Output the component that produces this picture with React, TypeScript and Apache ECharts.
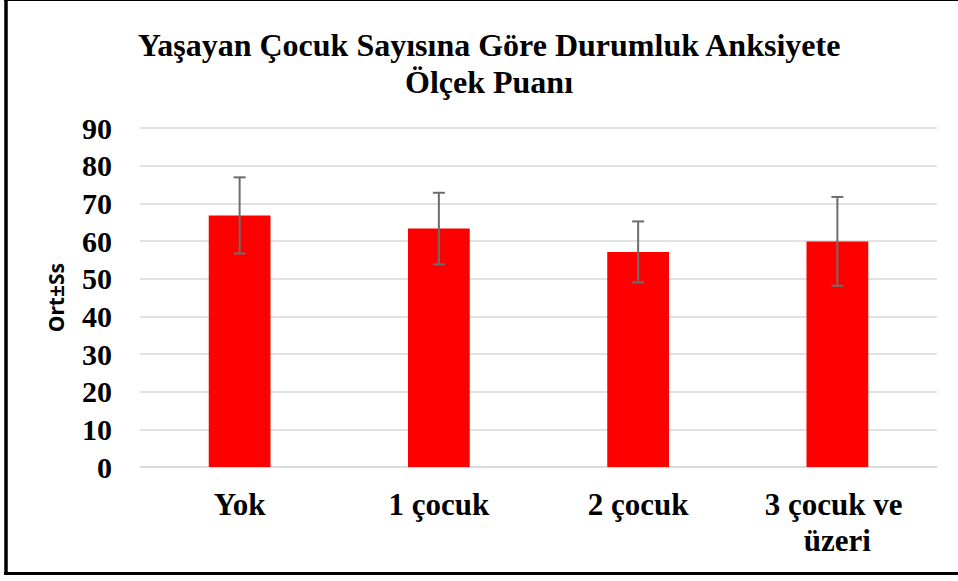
import React, { useEffect, useRef } from "react";
import * as echarts from "echarts";

const titleLines = ["Yaşayan Çocuk Sayısına Göre Durumluk Anksiyete", "Ölçek Puanı"];
const categories = ["Yok", "1 çocuk", "2 çocuk", "3 çocuk ve üzeri"];
const means = [66.8, 63.3, 57.1, 59.9];
const sds = [10.1, 9.5, 8.1, 11.8];
const yAxisName = "Ort±Ss";
const yMin = 0;
const yMax = 90;
const yInterval = 10;

export default function App() {
  const ref = useRef<HTMLDivElement>(null);
  useEffect(() => {
    document.body.style.margin = "0";
    const chart = echarts.init(ref.current!, null, { renderer: "svg" });
    const errData = categories.map((_, i) => [i, means[i] - sds[i], means[i] + sds[i]]);
    chart.setOption({
      animation: false,
      backgroundColor: "#ffffff",
      title: {
        text: titleLines.join("\n"),
        left: 484,
        top: 21,
        textAlign: "center",
        textStyle: {
          fontFamily: "Liberation Serif",
          fontWeight: "bold",
          fontSize: 32,
          lineHeight: 37,
          color: "#000000",
        },
      },
      grid: { left: 140, right: 21, top: 128, bottom: 114 },
      xAxis: {
        type: "category",
        data: categories,
        axisLine: { show: true, lineStyle: { color: "#d9d9d9", width: 1.5 } },
        axisTick: { show: false },
        axisLabel: {
          interval: 0,
          margin: 19,
          fontFamily: "Liberation Serif",
          fontWeight: "bold",
          fontSize: 31,
          lineHeight: 36,
          color: "#000000",
          width: 180,
          overflow: "break",
        },
      },
      yAxis: {
        type: "value",
        min: yMin,
        max: yMax,
        interval: yInterval,
        name: yAxisName,
        nameLocation: "middle",
        nameGap: 74,
        nameTextStyle: {
          fontFamily: "Noto Sans",
          fontWeight: "bold",
          fontSize: 21,
          color: "#000000",
        },
        axisLine: { show: false },
        axisTick: { show: false },
        axisLabel: {
          margin: 28,
          fontFamily: "Liberation Serif",
          fontWeight: "bold",
          fontSize: 30,
          color: "#000000",
        },
        splitLine: { lineStyle: { color: "#d9d9d9", width: 1.5 } },
      },
      series: [
        {
          type: "bar",
          data: means,
          barWidth: "31%",
          itemStyle: { color: "#ff0000" },
        },
        {
          type: "custom",
          data: errData,
          encode: { x: 0, y: [1, 2] },
          z: 10,
          renderItem: (params: any, api: any) => {
            const x = api.value(0);
            const lo = api.coord([x, api.value(1)]);
            const hi = api.coord([x, api.value(2)]);
            const half = 6;
            const style = { stroke: "#6d6d6d", lineWidth: 2 };
            return {
              type: "group",
              children: [
                { type: "line", shape: { x1: hi[0], y1: hi[1], x2: lo[0], y2: lo[1] }, style },
                { type: "line", shape: { x1: hi[0] - half, y1: hi[1], x2: hi[0] + half, y2: hi[1] }, style },
                { type: "line", shape: { x1: lo[0] - half, y1: lo[1], x2: lo[0] + half, y2: lo[1] }, style },
              ],
            };
          },
        },
      ],
      graphic: [
        { type: "line", shape: { x1: 6, y1: 0, x2: 6, y2: 575 }, style: { stroke: "#000000", lineWidth: 3.5 } },
        { type: "line", shape: { x1: 4, y1: 573.5, x2: 958, y2: 573.5 }, style: { stroke: "#000000", lineWidth: 3 } },
        { type: "line", shape: { x1: 4, y1: 0.5, x2: 958, y2: 0.5 }, style: { stroke: "#000000", lineWidth: 1 } },
      ],
    });
    return () => chart.dispose();
  }, []);
  return (
    <div
      ref={ref}
      style={{ position: "absolute", left: 0, top: 0, width: 958, height: 581 }}
    />
  );
}
